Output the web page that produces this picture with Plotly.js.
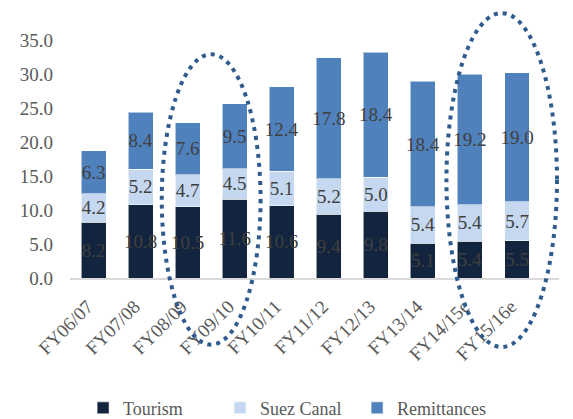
<!DOCTYPE html>
<html><head><meta charset="utf-8">
<script src="https://cdn.plot.ly/plotly-3.0.1.min.js"></script>
<style>html,body{margin:0;padding:0;background:#fff}#chart{width:573px;height:419px}</style>
</head><body><div id="chart"></div>
<script>
const categories = ["FY06/07","FY07/08","FY08/09","FY09/10","FY10/11","FY11/12","FY12/13","FY13/14","FY14/15e","FY15/16e"];
const tourism = [8.2,10.8,10.5,11.6,10.6,9.4,9.8,5.1,5.4,5.5];
const suezCanal = [4.2,5.2,4.7,4.5,5.1,5.2,5.0,5.4,5.4,5.7];
const remittances = [6.3,8.4,7.6,9.5,12.4,17.8,18.4,18.4,19.2,19.0];
const yTicks = [0,5,10,15,20,25,30,35];

const font = "Liberation Serif";
const labelFont = {family: font, size: 19, color: '#404040'};
function series(name, vals, color){
  return {type:'bar', name:name, x:categories, y:vals, marker:{color:color, line:{color:'rgba(255,255,255,0.55)', width:1}},
    text: vals.map(v=>v.toFixed(1)), texttemplate:'%{text}', textposition:'inside', insidetextanchor:'middle',
    textangle:0, constraintext:'none', textfont:labelFont, hoverinfo:'none'};
}
const data = [
  series('Tourism', tourism, '#13243f'),
  series('Suez Canal', suezCanal, '#c6d8f0'),
  series('Remittances', remittances, '#4f81bd')
];
const dotLine = {color:'#2f5b8e', width:4, dash:'4px,5px'};
const layout = {
  width:573, height:419, barmode:'stack', bargap:0.47,
  margin:{l:70, r:14, t:40, b:141, autoexpand:false},
  paper_bgcolor:'#fff', plot_bgcolor:'#fff',
  font:{family:font, color:'#595959'},
  showlegend:true,
  legend:{orientation:'h', x:0.145, xref:'container', xanchor:'left', y:0.07, yref:'container', yanchor:'top',
    font:{family:font, size:18, color:'#595959'}, traceorder:'normal', entrywidth:92, itemwidth:30},
  xaxis:{type:'category', automargin:false, tickangle:-45, tickfont:{family:font, size:19, color:'#595959'}, showline:true, linecolor:'#d9d9d9', linewidth:2, ticks:'', showgrid:false, zeroline:false, ticklabelstandoff:8, ticklabelshift:-6},
  yaxis:{range:[0,35], automargin:false, tickvals:yTicks, ticktext:yTicks.map(v=>v.toFixed(1)), tickfont:{family:font, size:19, color:'#595959'}, showgrid:false, zeroline:false, showline:false, ticks:'', ticklabelstandoff:16},
  shapes:[
    {type:'circle', xref:'x', yref:'paper', x0:1.45, x1:3.55, y0:-0.28, y1:0.94, line:dotLine, layer:'above'},
    {type:'circle', xref:'x', yref:'paper', x0:7.5, x1:9.85, y0:-0.29, y1:1.113, line:dotLine, layer:'above'}
  ]
};
Plotly.newPlot('chart', data, layout, {displayModeBar:false, staticPlot:true});
</script></body></html>
